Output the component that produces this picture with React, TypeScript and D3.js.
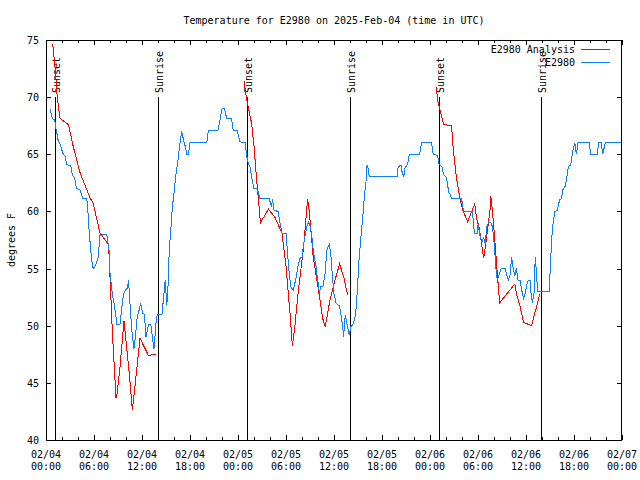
import * as d3 from "d3";

// hours after 2025-02-04 00:00 UTC
const sensorHours = [
  0.5, 0.8, 1.1, 1.25, 1.5, 1.8, 2.1, 2.4, 2.6, 3.1, 3.3, 3.6, 3.8, 4.25, 4.6, 5.1, 5.3, 5.4, 5.7, 5.9,
  6.2, 6.5, 6.75, 7.6, 7.9, 8.0, 8.3, 8.5, 8.75, 8.85, 9.25, 9.5, 9.7, 9.9, 10.2, 10.3, 10.4, 10.6, 10.8,
  11.0, 11.2, 11.4, 11.7, 11.8, 12.1, 12.3, 12.5, 12.8, 13.1, 13.3, 13.5, 13.75, 13.9, 14.5, 14.7, 14.9,
  15.1, 15.3, 15.4, 15.6, 15.8, 16.0, 16.25, 16.5, 16.75, 16.95, 17.2, 17.4, 17.6, 17.8, 18.0, 20.1, 20.3,
  21.5, 21.75, 22.0, 22.3, 22.6, 23.2, 23.4, 23.9, 24.25, 24.9, 25.1, 25.3, 25.5, 25.8, 26.0, 26.4, 26.75,
  27.9, 28.2, 28.3, 28.5, 29.0, 29.25, 29.5, 30.0, 30.2, 30.4, 30.6, 30.9, 31.2, 31.5, 31.75, 32.0, 32.25,
  32.6, 32.8, 33.0, 33.2, 33.4, 33.75, 33.9, 34.2, 34.3, 34.6, 34.9, 35.1, 35.4, 35.6, 35.8, 36.0, 36.25,
  36.7, 36.9, 37.1, 37.2, 37.4, 37.7, 37.9, 38.1, 38.4, 38.6, 38.75, 38.95, 39.1, 39.3, 39.45, 39.7, 39.8,
  40.0, 40.1, 40.2, 40.3, 40.4, 43.9, 44.0, 44.2, 44.4, 44.5, 44.7, 44.9, 45.1, 45.3, 45.4, 46.7, 46.95,
  48.2, 48.4, 48.95, 49.1, 49.5, 49.7, 50.0, 50.2, 50.3, 50.5, 50.7, 51.95, 52.2, 53.3, 53.5, 53.6, 53.9,
  54.0, 54.25, 54.5, 54.7, 54.9, 55.1, 55.3, 55.6, 55.8, 56.0, 56.25, 56.4, 56.6, 56.9, 57.4, 57.6, 57.8,
  58.0, 58.2, 58.4, 58.6, 58.8, 59.0, 59.25, 59.5, 59.7, 59.9, 60.1, 60.3, 60.5, 60.6, 60.8, 61.0, 61.1,
  61.2, 61.3, 61.5, 62.9, 63.1, 63.3, 63.6, 63.9, 64.2, 64.45, 64.6, 64.9, 65.1, 65.3, 65.6, 65.7, 65.9,
  66.1, 66.3, 66.5, 67.9, 68.1, 68.9, 69.1, 69.4, 69.6, 69.9, 72.0,
];
const sensorTemps = [
  69, 68.1, 68, 67.2, 66.3, 65.8, 65.1, 64.8, 64.1, 64, 63.2, 62.9, 62, 61.9, 61.1, 61.1, 59.5, 58.2, 55.75, 55,
  55.3, 55.9, 57.9, 58, 56.5, 54.6, 52.7, 52, 50.8, 50.1, 50.1, 51.7, 52.8, 53.1, 53.3, 54, 53.1, 50.8, 49.05,
  48, 49.2, 50.8, 51.5, 52, 51.1, 51, 49, 50.1, 50.1, 49, 48, 50.2, 51, 51, 52.5, 54,
  51.8, 54, 56.6, 58.4, 60.4, 61.6, 63.3, 64.5, 66, 67, 66.25, 65.7, 65, 65, 66, 66, 67.1,
  67.1, 68, 69, 69, 68.1, 68.1, 67.1, 67.1, 66.1, 66, 64.8, 64.2, 63.9, 62.6, 62, 62, 61.1,
  61.1, 60.4, 61.1, 60.1, 60, 59, 58.1, 58.1, 56.3, 54.6, 53.4, 53.1, 54, 55.2, 55.9, 56, 57.35,
  58.7, 59.1, 58.7, 58.1, 56.6, 55.2, 54.3, 52.8, 53.4, 53.4, 54.6, 56.6, 57.1, 56.3, 54.3, 52.8, 52,
  51.7, 50.8, 49.9, 49, 50.9, 49.9, 49.2, 49.9, 50.15, 50.6, 51.4, 53.4, 55.5, 57.2, 58.4, 60.4, 61.4,
  62.6, 63.9, 64, 63.6, 63.1, 63.1, 63.8, 64, 64, 63.5, 63, 63.9, 64, 64.4, 65, 65, 66,
  66, 65, 64.9, 64.15, 63.9, 63.2, 63, 62.5, 61.7, 61.5, 61.1, 61.1, 60, 60, 58.5, 58.1, 58.1,
  58.8, 57.9, 57.35, 57.7, 57.2, 58.7, 59, 59, 58.7, 57.35, 55, 54, 54.4, 55, 55, 54.4, 54,
  54.4, 56, 55, 54.4, 55, 54, 54, 53, 52.4, 52.8, 53.6, 54, 54, 53, 52, 52.8, 55.2,
  56, 54.3, 53, 53, 56, 58.5, 60, 60.1, 61, 61.15, 61.9, 62.2, 63, 63.9, 64.1, 64.6, 65.5,
  66, 65, 66, 66, 65, 65, 66, 66, 65, 66, 66,
];

const analysisNight1Hours = [0.84, 1.12, 1.41, 1.75, 2.8, 3.4, 4.25, 5.5, 5.9, 6.75, 7.8, 7.9, 8.0, 8.3, 8.75, 8.9, 9.25, 9.75, 10.4, 10.8, 11.3, 11.75, 12.8, 13.8];
const analysisNight1Temps = [74.65, 72.7, 70.0, 68.15, 67.6, 65.7, 63.4, 61.2, 60.7, 58.1, 57.1, 56.0, 54.3, 49.4, 43.7, 44.1, 46.4, 50.4, 45.9, 42.6, 45.9, 48.9, 47.4, 47.5];
const analysisNight2Hours = [24.75, 25.1, 25.7, 26.0, 26.3, 26.6, 26.8, 27.8, 28.6, 29.5, 30.0, 30.5, 30.8, 31.1, 31.5, 32.2, 32.7, 32.9, 33.4, 34.0, 34.6, 34.9, 35.5, 36.25, 36.7, 37.2, 37.7];
const analysisNight2Temps = [71.45, 69.75, 67.7, 65.7, 63.0, 60.7, 59.0, 60.2, 59.5, 58.1, 55.2, 51.1, 48.2, 49.9, 52.8, 56.9, 61.1, 60.1, 56.0, 53.4, 50.6, 49.9, 52.25, 54.3, 55.4, 54.3, 52.7];
const analysisNight3Hours = [48.75, 49.0, 49.3, 49.7, 50.7, 50.9, 51.3, 51.7, 52.1, 52.7, 53.6, 53.8, 54.2, 54.7, 54.9, 55.2, 55.5, 55.6, 55.8, 56.1, 56.3, 56.7, 58.6, 58.8, 59.25, 59.7, 60.7, 61.1, 61.75];
const analysisNight3Temps = [70.9, 69.6, 68.7, 67.6, 67.5, 65.5, 63.0, 61.3, 60.1, 59.1, 60.65, 59.5, 58.4, 55.9, 56.8, 58.4, 60.1, 61.35, 60.1, 57.5, 55.6, 52.0, 53.65, 52.8, 51.7, 50.3, 50.0, 51.1, 52.8];

const sunsetHours = [1.1, 25.1, 49.1];
const sunriseHours = [14.0, 38.0, 61.9];
const yTicks = [40, 45, 50, 55, 60, 65, 70, 75];

const T0 = Date.UTC(2025, 1, 4);
const toDate = (h: number) => new Date(T0 + h * 3600e3);

const W = 640;
const H = 480;
const left = 46;
const right = 622;
const top = 40;
const bottom = 440;
const FONT = "'DejaVu Sans Mono', monospace";
const RED = "#ff0000";
const BLUE = "#0a80ff";

const x = d3.scaleUtc().domain([toDate(0), toDate(72)]).range([left, right]);
const y = d3.scaleLinear().domain([40, 75]).range([bottom, top]);

const pts = (hs: number[], ts: number[]) => hs.map((h, i) => [toDate(h), ts[i]] as [Date, number]);
const line = d3
  .line<[Date, number]>()
  .x((d) => x(d[0]))
  .y((d) => y(d[1]));

export default function App() {
  const major = x.ticks(d3.utcHour.every(6)!);
  const minor = x.ticks(d3.utcHour.every(2)!).filter((d) => d.getUTCHours() % 6 !== 0);
  const fmtDay = d3.utcFormat("%m/%d");
  const fmtTime = d3.utcFormat("%H:%M");
  const redSegs = [
    pts(analysisNight1Hours, analysisNight1Temps),
    pts(analysisNight2Hours, analysisNight2Temps),
    pts(analysisNight3Hours, analysisNight3Temps),
  ];

  return (
    <svg
      width={W}
      height={H}
      style={{ position: "absolute", left: 0, top: 0, background: "#fff" }}
      fontFamily={FONT}
      fontSize={10}
    >
      <text x={(left + right) / 2} y={24} textAnchor="middle">
        Temperature for E2980 on 2025-Feb-04 (time in UTC)
      </text>
      <text transform={`translate(15,${(top + bottom) / 2}) rotate(-90)`} textAnchor="middle">
        degrees F
      </text>

      {/* y ticks, both sides */}
      <g shapeRendering="crispEdges" stroke="#000">
        {yTicks.map((t) => (
          <g key={t}>
            <line x1={left} x2={left + 5} y1={Math.round(y(t)) + 0.5} y2={Math.round(y(t)) + 0.5} />
            <line x1={right - 5} x2={right} y1={Math.round(y(t)) + 0.5} y2={Math.round(y(t)) + 0.5} />
          </g>
        ))}
        {major.map((d, i) => (
          <g key={"M" + i}>
            <line x1={x(d) + 0.5} x2={x(d) + 0.5} y1={bottom} y2={bottom - 5} />
            <line x1={x(d) + 0.5} x2={x(d) + 0.5} y1={top} y2={top + 5} />
          </g>
        ))}
        {minor.map((d, i) => (
          <g key={"m" + i}>
            <line x1={x(d) + 0.5} x2={x(d) + 0.5} y1={bottom} y2={bottom - 3} />
            <line x1={x(d) + 0.5} x2={x(d) + 0.5} y1={top} y2={top + 3} />
          </g>
        ))}
      </g>
      {yTicks.map((t) => (
        <text key={t} x={39} y={y(t) + 4} textAnchor="end">
          {t}
        </text>
      ))}
      {major.map((d, i) => (
        <text key={i} x={x(d)} textAnchor="middle">
          <tspan x={x(d)} y={458}>{fmtDay(d)}</tspan>
          <tspan x={x(d)} y={470}>{fmtTime(d)}</tspan>
        </text>
      ))}

      {/* sunrise / sunset markers */}
      {[...sunsetHours.map((h) => ["Sunset", h] as const), ...sunriseHours.map((h) => ["Sunrise", h] as const)].map(
        ([label, h]) => {
          const px = Math.round(x(toDate(h))) + 0.5;
          return (
            <g key={label + h}>
              <line x1={px} x2={px} y1={y(70)} y2={bottom} stroke="#000" shapeRendering="crispEdges" />
              <text transform={`translate(${px + 4},93) rotate(-90)`} textAnchor="start">
                {label}
              </text>
            </g>
          );
        },
      )}

      {/* data */}
      <g fill="none" strokeWidth={1} shapeRendering="crispEdges">
        {redSegs.map((s, i) => (
          <path key={i} d={line(s) ?? ""} stroke={RED} />
        ))}
        <path d={line(pts(sensorHours, sensorTemps)) ?? ""} stroke={BLUE} />
      </g>

      {/* legend */}
      <text x={575} y={53} textAnchor="end">E2980 Analysis</text>
      <line x1={581} x2={610} y1={49.5} y2={49.5} stroke={RED} shapeRendering="crispEdges" />
      <text x={575} y={66} textAnchor="end">E2980</text>
      <line x1={581} x2={610} y1={62.5} y2={62.5} stroke={BLUE} shapeRendering="crispEdges" />

      <rect
        x={left + 0.5}
        y={top + 0.5}
        width={right - left - 1}
        height={bottom - top}
        fill="none"
        stroke="#000"
        shapeRendering="crispEdges"
      />
    </svg>
  );
}
